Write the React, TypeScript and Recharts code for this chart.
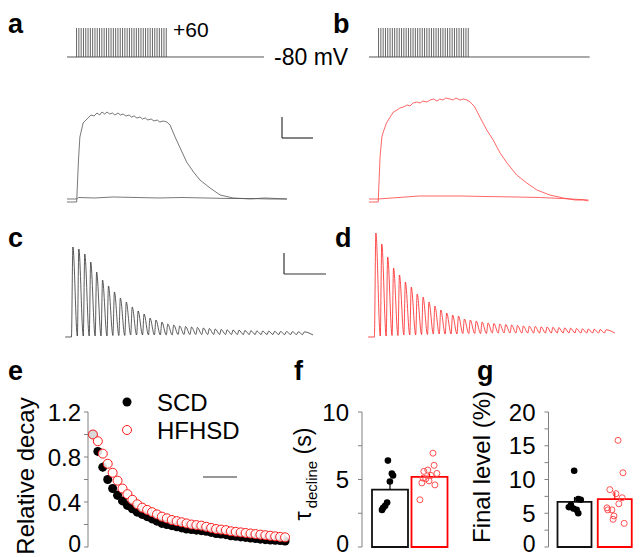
import React from 'react';
import { ComposedChart, LineChart, Line, Bar, Scatter, XAxis, YAxis, ErrorBar, Legend } from 'recharts';

const FONT = '"Liberation Sans", Arial, Helvetica, sans-serif';
const RED = '#ff1a1a';
const AXIS = '#808080';

// a, b: stimulation protocol, 40 pulses from -80 to +60 mV
const restMv = -80;
const stepMv = 60;
const stimPulseTimes = [
  0.2, 0.25, 0.3, 0.35, 0.4, 0.45, 0.5, 0.55, 0.6, 0.65, 0.7, 0.75, 0.8, 0.85, 0.9, 0.95, 1.0, 1.05, 1.1, 1.15,
  1.2, 1.25, 1.3, 1.35, 1.4, 1.45, 1.5, 1.55, 1.6, 1.65, 1.7, 1.75, 1.8, 1.85, 1.9, 1.95, 2.0, 2.05, 2.1, 2.15,
];
const stimEndA = 4.3;
const stimEndB = 4.8;

// a: fluorescence traces, time (s) / amplitude (a.u.)
const traceTimeA = [
  0, 0.21, 0.25, 0.28, 0.35, 0.41, 0.46, 0.52, 0.59, 0.65, 0.71, 0.76, 0.82, 0.87, 0.93, 0.99, 1.04, 1.11, 1.16, 1.22,
  1.28, 1.35, 1.4, 1.46, 1.52, 1.59, 1.64, 1.7, 1.76, 1.83, 1.89, 1.96, 2.02, 2.09, 2.17, 2.24, 2.35, 2.46, 2.6, 2.75,
  2.89, 3.11, 3.33, 3.61, 3.98, 4.3, 4.78,
];
const traceA = [
  -3, -3, 39, 62, 76, 79, 81, 84, 83, 86, 84, 87, 85, 87, 85, 86, 84, 86, 84, 85,
  83, 84, 82, 83, 81, 82, 80, 81, 79, 80, 78, 79, 77, 78, 77, 74, 62, 51, 37, 27,
  19, 11, 4, 1, 0, 1, 0,
];
const flatTimeA = [0, 0.21, 0.25, 0.6, 1.0, 1.5, 2.0, 2.5, 3.0, 3.5, 4.0, 4.4, 4.78];
const flatA = [0, 0, 1.5, 1, 2, 1.5, 1, 1.5, 1, 0.5, 0.5, 0, 0];

// b
const traceTimeB = [
  0, 0.2, 0.24, 0.28, 0.31, 0.38, 0.46, 0.53, 0.61, 0.67, 0.75, 0.83, 0.89, 0.96, 1.04, 1.11, 1.17, 1.26, 1.33, 1.4,
  1.48, 1.54, 1.61, 1.67, 1.76, 1.83, 1.89, 1.98, 2.05, 2.13, 2.2, 2.3, 2.41, 2.56, 2.7, 2.85, 3.0, 3.21, 3.43, 3.65,
  3.93, 4.22, 4.48, 4.66, 4.77,
];
const traceB = [
  -2, -2, 43, 63, 68, 77, 83, 88, 90, 92, 93, 95, 94, 97, 98, 97, 99, 98, 100, 101,
  99, 101, 100, 102, 101, 100, 102, 100, 101, 100, 98, 93, 83, 70, 60, 47, 37, 25, 17, 10,
  5, 2, 0, 0, -1,
];
const flatTimeB = [0, 0.2, 0.5, 0.8, 1.1, 1.5, 2.0, 2.5, 3.2, 3.7, 4.2, 4.77];
const flatB = [1, 1, 2, 3, 4, 4, 4, 3.5, 3, 2.5, 1.5, 0];

// c, d: transient evoked by each pulse (peak and pre-pulse level, a.u.)
const pulseNumbers = [
  1, 2, 3, 4, 5, 6, 7, 8, 9, 10, 11, 12, 13, 14, 15, 16, 17, 18, 19, 20,
  21, 22, 23, 24, 25, 26, 27, 28, 29, 30, 31, 32, 33, 34, 35, 36, 37, 38, 39, 40,
];
const peaksC = [
  90, 88, 83, 75, 65, 57, 51, 45, 39, 35, 30, 26, 23, 19, 17, 15, 13, 12, 11, 10.5,
  10, 9.5, 9, 8.5, 8, 7.5, 7.2, 7, 6.8, 6.5, 6.3, 6.1, 6, 5.8, 5.6, 5.5, 5.4, 5.3, 5.2, 5.1,
];
const troughsC = [
  0, 1, 1, 1, 1, 1, 1, 1.5, 1.5, 1.5, 2, 2, 2, 2, 2, 2, 2, 2, 2.5, 2.5,
  2.5, 2.5, 2.5, 2.5, 2.5, 2.5, 2.5, 2.5, 2.5, 2.5, 2.5, 2.5, 2.5, 2.5, 2.5, 2.5, 2.5, 2.5, 2.5, 2.5,
];
const peaksD = [
  104, 93, 80, 69, 62, 55, 50, 43, 40, 35, 31, 27, 24, 22, 21, 18, 17, 16, 15, 14,
  13.5, 13, 12.5, 12, 11.5, 11, 10.8, 10.5, 10.2, 10, 9.7, 9.4, 9.1, 8.8, 8.5, 8.2, 8, 7.8, 7.5, 7.2,
];
const troughsD = [
  0, 1, 1, 1.5, 1.5, 2, 2, 2, 2.5, 2.5, 3, 3, 3, 3, 3, 3.5, 3.5, 3.5, 3.5, 3.5,
  4, 4, 4, 4, 4, 4, 4, 4, 4, 4, 4, 4, 4, 4, 4, 4, 4, 4, 4, 4,
];
const tailC = 2;
const tailD = 4;

// e: relative decay per pulse
const decaySCD = [
  1.0, 0.85, 0.71, 0.6, 0.52, 0.46, 0.41, 0.37, 0.34, 0.31, 0.29, 0.27, 0.25, 0.23, 0.21, 0.2, 0.19, 0.18, 0.17, 0.16,
  0.155, 0.15, 0.145, 0.14, 0.13, 0.12, 0.115, 0.11, 0.1, 0.095, 0.09, 0.085, 0.08, 0.075, 0.07, 0.065, 0.062, 0.06, 0.057, 0.053,
];
const semSCD = [
  0, 0.03, 0.04, 0.04, 0.04, 0.04, 0.035, 0.035, 0.03, 0.03, 0.03, 0.025, 0.025, 0.025, 0.02, 0.02, 0.02, 0.02, 0.02, 0.02,
  0.015, 0.015, 0.015, 0.015, 0.015, 0.015, 0.015, 0.015, 0.012, 0.012, 0.012, 0.012, 0.01, 0.01, 0.01, 0.01, 0.01, 0.01, 0.01, 0.01,
];
const decayHFHSD = [
  1.0, 0.94, 0.83, 0.74, 0.66, 0.59, 0.52, 0.47, 0.42, 0.38, 0.35, 0.33, 0.31, 0.29, 0.27, 0.255, 0.24, 0.23, 0.22, 0.21,
  0.2, 0.195, 0.19, 0.18, 0.17, 0.16, 0.155, 0.15, 0.14, 0.135, 0.13, 0.125, 0.12, 0.115, 0.11, 0.105, 0.1, 0.095, 0.09, 0.086,
];
const decayTicks = [0, 0.2, 0.4, 0.6, 0.8, 1.0, 1.2];
const decayLabels = [0, 0.4, 0.8, 1.2];
const groups = [
  { name: 'SCD', color: '#000', open: false },
  { name: 'HFHSD', color: RED, open: true },
];

// f: tau decline (s)
const tauMean = [4.25, 5.2];
const tauSem = [0.5, 0.25];
const tauSCD = [6.4, 5.45, 5.3, 4.85, 3.3, 3.05, 2.9, 2.75];
const tauSCDJitter = [-0.04, 0.06, 0.09, 0.01, -0.06, -0.11, -0.16, -0.19];
const tauHFHSD = [6.95, 6.05, 5.7, 5.6, 5.45, 5.3, 5.05, 5.1, 4.75, 4.6, 4.9, 3.5];
const tauHFHSDJitter = [0.1, 0.13, -0.03, -0.13, 0.2, 0.05, -0.08, -0.15, -0.18, 0.15, 0.0, -0.23];
const tauTicks = [0, 2.5, 5, 7.5, 10];
const tauLabels = [0, 5, 10];

// g: final level (%)
const finalMean = [6.7, 7.1];
const finalSem = [0.7, 1.0];
const finalSCD = [11.3, 7.1, 7.0, 6.2, 5.9, 5.7, 5.5, 5.0];
const finalSCDJitter = [-0.02, 0.08, 0.14, -0.1, -0.15, -0.04, 0.04, 0.08];
const finalHFHSD = [15.8, 11.0, 8.5, 7.9, 7.3, 6.4, 5.5, 5.5, 4.6, 4.1, 3.5, 5.8];
const finalHFHSDJitter = [0.05, 0.17, -0.15, 0, 0.15, 0.07, -0.1, -0.2, -0.05, -0.07, 0.2, -0.22];
const finalTicks = [0, 2.5, 5, 7.5, 10, 12.5, 15, 17.5, 20];
const finalLabels = [0, 5, 10, 15, 20];

// layout
const SEC_PX = 46;

const zip = (t: number[], v: number[]) => t.map((x, i) => ({ t: x, v: v[i] }));

function buildTrain(peaks: number[], troughs: number[], tail: number) {
  const pts = [{ t: -0.3, v: troughs[0] }];
  pulseNumbers.forEach((n, i) => {
    pts.push({ t: n - 0.25, v: troughs[i] });
    pts.push({ t: n, v: peaks[i] });
  });
  pts.push({ t: 41.5, v: tail });
  return pts;
}

function Stim({ left, end }: { left: number; end: number }) {
  const pulses = stimPulseTimes.map((t) => ({ t, v: [restMv, stepMv] }));
  const holding = [{ t: 0, v: restMv }, { t: end, v: restMv }];
  return (
    <div style={{ position: 'absolute', left, top: 25 }}>
      <ComposedChart width={end * SEC_PX} height={35} data={pulses} margin={{ top: 3, right: 0, bottom: 3, left: 0 }}>
        <XAxis type="number" dataKey="t" domain={[0, end]} hide allowDataOverflow />
        <YAxis type="number" domain={[restMv, stepMv]} hide />
        <Bar dataKey="v" barSize={1} fill="#666" isAnimationActive={false} />
        <Line data={holding} dataKey="v" stroke="#555" strokeWidth={1} dot={false} isAnimationActive={false} />
      </ComposedChart>
    </div>
  );
}

function Traces({ left, top, main, flat, color }: { left: number; top: number; main: any[]; flat: any[]; color: string }) {
  return (
    <div style={{ position: 'absolute', left, top }}>
      <LineChart width={4.8 * SEC_PX} height={120} margin={{ top: 0, right: 0, bottom: 0, left: 0 }}>
        <XAxis type="number" dataKey="t" domain={[0, 4.8]} hide allowDataOverflow />
        <YAxis type="number" domain={[-10, 110]} hide />
        <Line data={flat} dataKey="v" type="linear" stroke={color} strokeWidth={0.8} dot={false} isAnimationActive={false} />
        <Line data={main} dataKey="v" type="linear" stroke={color} strokeWidth={0.8} dot={false} isAnimationActive={false} />
      </LineChart>
    </div>
  );
}

function Train({ left, pulsePx, data, color }: { left: number; pulsePx: number; data: any[]; color: string }) {
  return (
    <div style={{ position: 'absolute', left, top: 227 }}>
      <LineChart width={42.5 * pulsePx} height={115} margin={{ top: 0, right: 0, bottom: 0, left: 0 }}>
        <XAxis type="number" dataKey="t" domain={[-0.5, 42]} hide allowDataOverflow />
        <YAxis type="number" domain={[-5, 110]} hide />
        <Line data={data} dataKey="v" type="monotone" stroke={color} strokeWidth={0.8} dot={false} isAnimationActive={false} />
      </LineChart>
    </div>
  );
}

// y tick label; the bottom "0" is nudged up so it stays inside the page
const axisTick = (labels: number[]) => (p: any) => {
  const v = p.payload.value;
  if (!labels.includes(v)) return <g />;
  const low = v === 0;
  return (
    <text x={p.x} y={p.y - (low ? 3.5 : 0)} dy="0.355em" textAnchor="end" fontSize={low ? 23 : 24} fontFamily={FONT} fill="#000">
      {String(v)}
    </text>
  );
};

const blackDot = (r: number) => (p: any) => <circle cx={p.cx} cy={p.cy} r={r} fill="#000" />;
const redRing = (r: number, color: string, opacity: number) => (p: any) => (
  <circle cx={p.cx} cy={p.cy} r={r} fill="#fff" fillOpacity={opacity} stroke={color} strokeWidth={1} />
);

function DecayPanel() {
  const scd = pulseNumbers.map((n, i) => ({ pulse: n, decay: decaySCD[i], sem: semSCD[i] }));
  const hf = pulseNumbers.map((n, i) => ({ pulse: n, decay: decayHFHSD[i] }));
  return (
    <div style={{ position: 'absolute', left: 0, top: 395 }}>
      <ComposedChart width={300} height={162} margin={{ top: 17, right: 10, bottom: 10, left: 0 }}>
        <XAxis type="number" dataKey="pulse" domain={[0, 41]} hide allowDataOverflow />
        <YAxis
          type="number"
          dataKey="decay"
          domain={[0, 1.2]}
          ticks={decayTicks}
          interval={0}
          width={88}
          tickSize={4}
          tickMargin={3}
          stroke={AXIS}
          tick={axisTick(decayLabels)}
        />
        <Legend
          layout="horizontal"
          verticalAlign="middle"
          align="center"
          wrapperStyle={{ left: 115, top: -5, width: 170, height: 64 }}
          content={() => (
            <svg width={170} height={64} style={{ overflow: 'visible' }}>
              {groups.map((g, i) => (
                <g key={g.name}>
                  <circle cx={12} cy={12 + i * 28} r={4.5} fill={g.open ? 'none' : g.color} stroke={g.open ? g.color : 'none'} strokeWidth={1} />
                  <text x={42} y={20.5 + i * 28} fontSize={24} fontFamily={FONT} fill="#000">
                    {g.name}
                  </text>
                </g>
              ))}
            </svg>
          )}
        />
        <Scatter name="SCD" data={scd} shape={blackDot(4.5)} isAnimationActive={false}>
          <ErrorBar dataKey="sem" direction="y" width={0} stroke="#000" strokeWidth={1} />
        </Scatter>
        <Scatter name="HFHSD" data={hf} shape={redRing(4.5, RED, 0.85)} isAnimationActive={false} />
      </ComposedChart>
    </div>
  );
}

type GroupProps = {
  left: number;
  width: number;
  axisWidth: number;
  pad: { left: number; right: number };
  pointDomain: [number, number];
  maxY: number;
  ticks: number[];
  labels: number[];
  means: number[];
  sems: number[];
  scd: number[];
  scdJit: number[];
  hf: number[];
  hfJit: number[];
  barSize: number;
};

function GroupPanel(p: GroupProps) {
  const rows = [
    { group: 'SCD', scd: p.means[0], scdErr: [0, p.sems[0]] },
    { group: 'HFHSD', hf: p.means[1], hfErr: [0, p.sems[1]] },
  ];
  const scdPts = p.scd.map((y, i) => ({ x: 1 + p.scdJit[i], y }));
  const hfPts = p.hf.map((y, i) => ({ x: 2 + p.hfJit[i], y }));
  return (
    <div style={{ position: 'absolute', left: p.left, top: 395 }}>
      <ComposedChart width={p.width} height={162} data={rows} margin={{ top: 17, right: 0, bottom: 10, left: 0 }}>
        <XAxis type="category" dataKey="group" padding={p.pad} tick={false} tickLine={false} height={0} stroke={AXIS} />
        <XAxis xAxisId="pts" type="number" dataKey="x" domain={p.pointDomain} hide allowDataOverflow />
        <YAxis
          type="number"
          dataKey="y"
          domain={[0, p.maxY]}
          ticks={p.ticks}
          interval={0}
          width={p.axisWidth}
          tickSize={4}
          tickMargin={9}
          stroke={AXIS}
          tick={axisTick(p.labels)}
        />
        <Bar dataKey="scd" stackId="m" barSize={p.barSize} fill="#fff" stroke="#111" strokeWidth={1.8} isAnimationActive={false}>
          <ErrorBar dataKey="scdErr" direction="y" width={0} stroke="#000" strokeWidth={1.2} />
        </Bar>
        <Bar dataKey="hf" stackId="m" barSize={p.barSize} fill="#fff" stroke="#ff0000" strokeWidth={1.8} isAnimationActive={false}>
          <ErrorBar dataKey="hfErr" direction="y" width={0} stroke="#ff0000" strokeWidth={1.2} />
        </Bar>
        <Scatter xAxisId="pts" data={scdPts} shape={blackDot(3.3)} isAnimationActive={false} />
        <Scatter xAxisId="pts" data={hfPts} shape={redRing(3, '#ff5050', 0)} isAnimationActive={false} />
      </ComposedChart>
    </div>
  );
}

function Overlay() {
  const letter = { fontSize: 27, fontWeight: 700, fontFamily: FONT, fill: '#000' } as const;
  const txt = { fontFamily: FONT, fill: '#000' } as const;
  const bar = { stroke: '#333', strokeWidth: 1.2 };
  return (
    <svg width={641} height={557} style={{ position: 'absolute', left: 0, top: 0, pointerEvents: 'none' }}>
      <text x={8} y={33} {...letter}>a</text>
      <text x={333} y={33} {...letter}>b</text>
      <text x={8} y={247} {...letter}>c</text>
      <text x={335} y={247} {...letter}>d</text>
      <text x={8} y={380} {...letter}>e</text>
      <text x={294} y={380} {...letter}>f</text>
      <text x={477} y={380} {...letter}>g</text>
      <text x={173} y={37} fontSize={21} {...txt}>+60</text>
      <text x={274} y={65} fontSize={23} {...txt}>-80 mV</text>

      <line x1={282} y1={117} x2={282} y2={138} {...bar} />
      <line x1={282} y1={138} x2={313} y2={138} {...bar} />
      <line x1={284} y1={253} x2={284} y2={274} {...bar} />
      <line x1={284} y1={274} x2={326} y2={274} {...bar} />
      <line x1={203} y1={477} x2={237} y2={477} {...bar} />

      <text transform="rotate(-90 34 476)" x={34} y={476} textAnchor="middle" fontSize={24} {...txt}>Relative decay</text>
      <text transform="rotate(-90 311 474)" x={311} y={474} textAnchor="middle" fontSize={23} {...txt}>
        <tspan>τ</tspan>
        <tspan fontSize={15} dy={6} dx={3}>decline</tspan>
        <tspan dy={-6}> (s)</tspan>
      </text>
      <text transform="rotate(-90 490 467)" x={490} y={467} textAnchor="middle" fontSize={24} {...txt}>Final level (%)</text>
    </svg>
  );
}

export default function App() {
  return (
    <div style={{ position: 'relative', width: 641, height: 557, background: '#fff', overflow: 'hidden' }}>
      <style>{'body{margin:0}'}</style>
      <Stim left={66.7} end={stimEndA} />
      <Stim left={369} end={stimEndB} />
      <Traces left={67} top={89} main={zip(traceTimeA, traceA)} flat={zip(flatTimeA, flatA)} color="#555" />
      <Traces left={369} top={90} main={zip(traceTimeB, traceB)} flat={zip(flatTimeB, flatB)} color="#ff4040" />
      <Train left={64.1} pulsePx={5.93} data={buildTrain(peaksC, troughsC, tailC)} color="#333" />
      <Train left={367.2} pulsePx={5.9} data={buildTrain(peaksD, troughsD, tailD)} color="#ff2020" />
      <DecayPanel />
      <GroupPanel
        left={300}
        width={150}
        axisWidth={62}
        pad={{ left: 8, right: 1 }}
        pointDomain={[0.304, 2.532]}
        maxY={10}
        ticks={tauTicks}
        labels={tauLabels}
        means={tauMean}
        sems={tauSem}
        scd={tauSCD}
        scdJit={tauSCDJitter}
        hf={tauHFHSD}
        hfJit={tauHFHSDJitter}
        barSize={36}
      />
      <GroupPanel
        left={490}
        width={151}
        axisWidth={58.5}
        pad={{ left: 6, right: 6 }}
        pointDomain={[0.354, 2.61]}
        maxY={20}
        ticks={finalTicks}
        labels={finalLabels}
        means={finalMean}
        sems={finalSem}
        scd={finalSCD}
        scdJit={finalSCDJitter}
        hf={finalHFHSD}
        hfJit={finalHFHSDJitter}
        barSize={34}
      />
      <Overlay />
    </div>
  );
}
